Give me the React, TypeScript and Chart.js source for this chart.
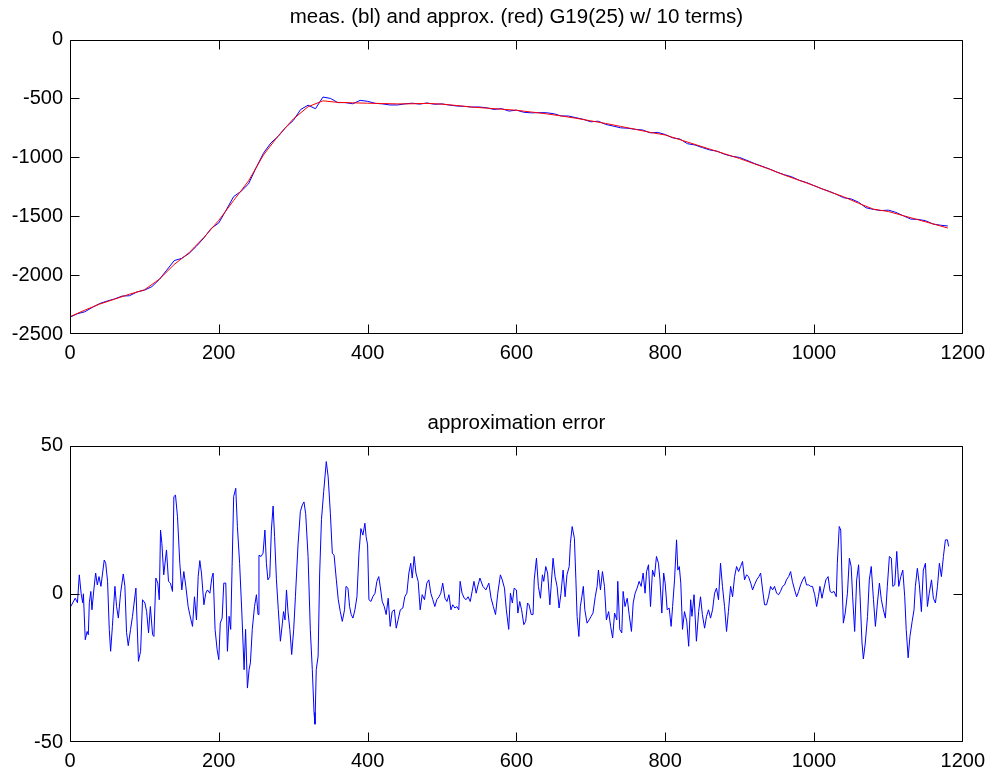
import React, { useEffect, useRef } from 'react';
import { Chart, registerables } from 'chart.js';

Chart.register(...registerables);

const FONT = 'Liberation Sans, Arial, Helvetica, sans-serif';

const topTitle = 'meas. (bl) and approx. (red) G19(25) w/ 10 terms)';
const errTitle = 'approximation error';

const xTicks = [0, 200, 400, 600, 800, 1000, 1200];
const topYTicks = [-2500, -2000, -1500, -1000, -500, 0];
const errYTicks = [-50, 0, 50];

// red: approximation
const approxX = [
  0, 20, 40, 60, 80, 100, 120, 140, 160, 180,
  200, 220, 240, 260, 280, 300, 320, 340, 360, 380,
  400, 420, 440, 460, 480, 500, 520, 540, 560, 580,
  600, 620, 640, 660, 680, 700, 720, 740, 760, 780,
  800, 820, 840, 860, 880, 900, 920, 940, 960, 980,
  1000, 1020, 1040, 1060, 1080, 1100, 1120, 1140, 1160, 1180,
];
const approxY = [
  -2353, -2297, -2246, -2204, -2162, -2125, -2035, -1910, -1810, -1680,
  -1535, -1366, -1200, -980, -816, -675, -570, -520, -533, -537,
  -540, -543, -546, -545, -542, -548, -560, -573, -582, -591,
  -600, -615, -630, -648, -668, -690, -712, -737, -762, -788,
  -810, -850, -890, -930, -970, -1010, -1055, -1100, -1150, -1195,
  -1240, -1290, -1335, -1390, -1440, -1460, -1495, -1530, -1565, -1600,
];

// blue: measurement
const measX = [
  0, 10, 20, 30, 40, 50, 60, 70, 80, 90,
  100, 110, 120, 130, 140, 150, 160, 170, 180, 190,
  200, 210, 220, 230, 240, 250, 260, 270, 280, 290,
  300, 310, 320, 330, 340, 350, 360, 370, 380, 390,
  400, 410, 420, 430, 440, 450, 460, 470, 480, 490,
  500, 510, 520, 530, 540, 550, 560, 570, 580, 590,
  600, 610, 620, 630, 640, 650, 660, 670, 680, 690,
  700, 710, 720, 730, 740, 750, 760, 770, 780, 790,
  800, 810, 820, 830, 840, 850, 860, 870, 880, 890,
  900, 910, 920, 930, 940, 950, 960, 970, 980, 990,
  1000, 1010, 1020, 1030, 1040, 1050, 1060, 1070, 1080, 1090,
  1100, 1110, 1120, 1130, 1140, 1150, 1160, 1170, 1180,
];
const measY = [
  -2357, -2328, -2311, -2274, -2241, -2220, -2202, -2178, -2175, -2143,
  -2128, -2098, -2037, -1958, -1877, -1858, -1816, -1754, -1684, -1602,
  -1557, -1447, -1333, -1288, -1225, -1090, -965, -878, -821, -745,
  -688, -594, -557, -587, -488, -499, -535, -535, -545, -516,
  -524, -541, -546, -555, -555, -546, -540, -548, -538, -549,
  -546, -556, -564, -567, -573, -572, -579, -593, -586, -607,
  -599, -617, -622, -620, -621, -629, -648, -649, -663, -677,
  -698, -693, -720, -734, -749, -753, -762, -768, -792, -788,
  -806, -834, -845, -884, -895, -917, -937, -948, -974, -991,
  -1001, -1026, -1052, -1075, -1098, -1125, -1147, -1165, -1194, -1214,
  -1240, -1266, -1287, -1313, -1343, -1353, -1381, -1428, -1442, -1452,
  -1448, -1467, -1496, -1524, -1527, -1538, -1566, -1576, -1583,
];

// approximation error
const errX = [
  1, 7, 10, 12.5, 15, 17, 18, 20.5, 23, 24.6,
  26, 28, 29.5, 32, 34.5, 36.7, 39, 41.6, 46, 48,
  50.5, 52.8, 54.6, 57, 60.4, 62.6, 65, 68, 71.6, 73.8,
  76, 78.3, 81.4, 84, 88.6, 92, 94.9, 97.5, 100.7, 103,
  105.6, 108, 111, 112.8, 115.4, 118, 120, 121.7, 123.5, 126,
  129.7, 132.4, 135, 137.8, 139.6, 141.8, 144.5, 147.6, 150.3, 153,
  155.7, 158.8, 161, 164.7, 167.3, 170, 172.3, 174.5, 176.7, 180,
  182.5, 184.8, 188, 190.6, 192.4, 195, 197.8, 200, 202, 204.5,
  206.7, 209.4, 211.6, 213.9, 216, 217.9, 220, 222.8, 225, 228,
  231, 234, 236, 238.5, 240.7, 242.5, 245, 248, 250.6, 252.8,
  254, 256.8, 259.5, 262, 264, 266, 268.5, 270.7, 273, 275,
  277.5, 280, 282.8, 285.5, 287, 289, 291, 293, 295.5, 298,
  300.7, 303, 306.5, 309.6, 312.3, 314.5, 316.8, 320, 323, 325.7,
  328, 329.3, 331, 333.5, 335.6, 338, 341, 344.5, 347, 350,
  352.6, 355, 358, 360.6, 363.3, 366, 369, 371, 373.6, 375.8,
  378, 380.3, 383, 385.7, 388.4, 391, 393.7, 396.4, 398, 400,
  401.8, 404.5, 407, 410, 412.5, 415, 417, 419.7, 422.4, 425,
  427.7, 430.4, 433, 436, 438.5, 441, 444, 447.4, 450, 452.8,
  455.5, 458, 460, 462.6, 465, 468, 470.7, 473.4, 476.5, 479.6,
  482.3, 485, 487.7, 490.4, 493, 496, 498.4, 501, 504, 506.7,
  509.4, 512, 514.5, 517.3, 520, 522.6, 524.4, 527, 530, 532.4,
  535, 538, 540.5, 543, 546, 548.5, 551, 555, 559, 563,
  566, 569, 572, 575, 578.5, 581, 584, 586.5, 589.7, 592,
  594.6, 597, 600, 602, 604.5, 607, 610, 612.5, 615, 617,
  620, 622.4, 624, 627, 629.6, 632.3, 635, 636.8, 639.5, 642,
  645, 647, 649.3, 652, 654.7, 657.4, 660, 662.8, 665.5, 668,
  671, 672.6, 675, 678, 680, 681.6, 684, 686, 688, 690,
  692, 695, 697.8, 700.5, 703, 706, 708.5, 710.3, 713, 715.7,
  718.4, 721, 724, 726.7, 729.4, 732, 735, 736.3, 739, 741.7,
  743.5, 746, 749, 751.6, 754.7, 757, 759.6, 762.3, 765, 767.7,
  770.4, 773, 775, 777.6, 780.3, 783, 785.6, 788.3, 791, 793,
  795.5, 798, 800, 802.7, 805.4, 808, 810, 812.6, 815.3, 817,
  819, 821, 823.3, 826, 829, 831.6, 834.3, 836, 838.8, 842,
  845, 847.5, 850, 853, 855.6, 858.3, 861, 863.7, 866.4, 869,
  871.7, 874.4, 877, 879.8, 882.5, 885, 888, 890.6, 893.3, 896,
  898.7, 901.4, 904, 906.7, 909.4, 912, 915, 917.5, 920, 923,
  926, 928.3, 931, 933.6, 936.3, 939, 941.7, 944.4, 947, 949.8,
  952.5, 955, 957.8, 960.5, 963, 966, 968.6, 971, 974, 976.7,
  979.4, 982, 984.8, 987.4, 990, 992.8, 995.5, 998, 1001, 1003.6,
  1006, 1008, 1010.8, 1013.5, 1016, 1019, 1021.7, 1024, 1027, 1030,
  1031.4, 1034, 1036, 1037.7, 1039.5, 1042, 1045, 1047.6, 1050, 1052,
  1054.7, 1057.4, 1060, 1062, 1064.6, 1066.4, 1069, 1072, 1074.4, 1077,
  1080, 1082.6, 1085.3, 1088, 1090.6, 1093.3, 1096, 1098.6, 1101.4, 1104,
  1106, 1108.6, 1111.3, 1114, 1116.7, 1119.4, 1122, 1124, 1126.6, 1129,
  1132, 1134.5, 1136.3, 1139, 1141.7, 1144.4, 1147, 1149.8, 1152.5, 1155,
  1158, 1160.5, 1163.3, 1166, 1168.6, 1171.3, 1174, 1176.7, 1179.4, 1181,
];
const errY = [
  -4.3, -1.5, -3, 6.4, 0, -3, 0, -15.5, -12.7, -13.8,
  -3, 0.8, -5.4, 1.3, 7, 3, 5.8, 2.5, 11.4, 10.3,
  4.2, -12, -19.4, -11, 2.5, -4.3, -8.2, 0.2, 6.7, 2.5,
  -13, -17.5, -12, -7.6, 1.9, -22.8, -19.4, -2, -3.1, -6,
  -13.2, -4.3, -13.8, -14.4, 5.3, 3.6, -2, 21.5, 17, 6.4,
  14.8, 4.2, 3.6, 0.8, 32.8, 33.3, 26, 10.3, 1.3, 7.5,
  2.5, -4.3, -7, -11, -1, -8.8, 5.8, 11.2, 7, -3.7,
  0.2, 1.3, 0.2, 5.3, 7, -12, -18.9, -22.2, -9.9, -8.2,
  3.6, 3.6, -19.4, -7.6, -12, 9.2, 32.8, 35.6, 22.7, 10.3,
  -6.5, -25.6, -12, -31.8, -25.6, -23.3, -12, -4.3, -0.3, -7,
  13, 12.6, 13.7, 21.5, 10.3, 4.7, 5.8, 21.5, 29.6, 19.3,
  4.7, -5.4, -16, -9.9, -6, -8.8, 1.3, -6, -12, -20.5,
  -12, -1, 16.5, 27.7, 30, 31, 27, 12.6, -12, -25.6,
  -40, -44, -25.6, -21, 7, 25, 34.5, 44.6, 39.5, 27,
  13.7, 13, 4.7, -2, -6, -9.3, -5.4, 2.5, 1.9, -4.3,
  -7, -8.2, -5.4, -1, 13.7, 22, 19.8, 23.8, 19.3, 16.5,
  -2, -2.6, -1, 0.2, 4.2, 5.8, 2.5, -2.6, -4.3, -7,
  -1.5, -11, -6, -5.4, -11.6, -8.8, -5.4, -4.8, -1, 0.2,
  7, 10.3, 5.3, 12.6, 7, 4.2, -5.4, -0.3, -2, 3.6,
  4.7, 0.2, -2, -4.3, -2, -1, 0.2, 3.6, -1.5, -2.6,
  -0.3, -5.4, -3.7, -4.8, -4.3, -5.4, 4.2, 0.2, -1.5, -2,
  -1, -2.6, 0.8, 4.2, 0.2, 3, 5.3, 2.5, 1.3, 3.6,
  -1.5, -4.3, -7, 0.2, 6.4, 4.7, 1.9, -5.4, -12, 0.2,
  -3.1, 1.9, 1.3, -6.5, -2.6, -5.4, -10.4, -9.3, -3.1, -3.7,
  -7, -7, 4.7, 12, 2.5, -1.5, 6.4, 4.2, 9.2, 7,
  -3.7, 3.6, 12, 5.8, 2.5, -4.8, 0.2, 8, -1, 6.4,
  9.2, 17, 22.7, 18.7, 4.7, -7.6, -14.4, -4.3, -1, 2.5,
  -5.4, -9.9, -8.8, -7.6, -6.5, -1, 2.5, 8, 1.3, 7.5,
  2.5, -8.8, -6, -11, -14.9, -6.5, -8.8, 4.2, -12, -13.2,
  0.8, -4.3, -1.5, -7, -12.7, -3.1, 0.2, 1.9, 4.2, 2.5,
  7, 0.2, 7.5, 9.8, -4.3, 8, 5.8, 12.6, 10.3, 4.7,
  -6.5, 7, 3.6, -5.4, -4.8, -11, -4.3, 4.7, 18.2, 8,
  9.2, 3.6, -12, -6, -9.3, -17.7, -2, -7.6, -0.3, -16,
  -6, -1, -7, -11.6, -7.6, -5.4, -8.2, -5.4, 0.2, 1.9,
  -2, 10.3, 2.5, -4.3, -12.7, -6, 2.5, -1, 5.8, 9.2,
  7.5, 9.2, 10.9, 4.7, 6.4, 5.8, 3.6, 1.3, 3, 4.7,
  5.8, 7, 1.3, -3.7, -3.7, -1, 2.5, 1.3, 2.5, 0.2,
  -0.3, 0.8, 2.5, 3, 4.7, 5.8, 7.5, 4.2, 1.3, -1,
  0.8, 3, 4.7, 5.8, 3, 3, 2.5, 2.5, -0.3, -4.3,
  -1, 2.5, -1.5, 1.9, 4.7, 5.8, 0.8, 0.4, 0.8, -1,
  10.3, 22.7, 21.5, 4.7, -9.9, -6.5, 0.2, 12, 9.2, -1,
  -12.7, 4.7, 9.8, -1, -16.6, -22, -16.6, -7.6, 4.7, 9.2,
  -2, -11, -3.1, 3.6, -2, -5.4, -8.2, 2.5, 12.6, 12,
  2.5, 3, 14.3, 2.5, 5.8, 8, -1, -12, -21.6, -14.4,
  -9.3, -5.4, 2.5, 8.6, 3, -6, 8, 10.3, -4.3, 0.2,
  4.7, -1.5, -3.1, 2.5, 10.3, 5.8, 12.6, 18.2, 18.2, 16,
];

const toPoints = (xs: number[], ys: number[]) => xs.map((x, i) => ({ x, y: ys[i] }));

const clamp = (v: number, lo: number, hi: number) => Math.min(hi, Math.max(lo, v));

const framePlugin = {
  id: 'matlabFrame',
  afterDraw(chart: any) {
    const { ctx, chartArea: a, scales } = chart;
    const L = Math.round(a.left) + 0.5;
    const R = Math.round(a.right) - 0.5;
    const T = Math.round(a.top) + 0.5;
    const B = Math.round(a.bottom) - 0.5;
    const tl = 9;
    ctx.save();
    ctx.strokeStyle = '#000';
    ctx.lineWidth = 1;
    ctx.beginPath();
    ctx.rect(L, T, R - L, B - T);
    scales.x.ticks.forEach((t: any) => {
      const px = clamp(Math.round(scales.x.getPixelForValue(t.value)) + 0.5, L, R);
      ctx.moveTo(px, B);
      ctx.lineTo(px, B - tl);
      ctx.moveTo(px, T);
      ctx.lineTo(px, T + tl);
    });
    scales.y.ticks.forEach((t: any) => {
      const py = clamp(Math.round(scales.y.getPixelForValue(t.value)) + 0.5, T, B);
      ctx.moveTo(L, py);
      ctx.lineTo(L + tl, py);
      ctx.moveTo(R, py);
      ctx.lineTo(R - tl, py);
    });
    ctx.stroke();
    ctx.restore();
  },
};

function makeOptions(title: string, yMin: number, yMax: number, yTicks: number[], titleTop: number, xHeight: number) {
  const font = { family: FONT, size: 20, weight: 'normal' as const };
  const titleFont = { family: FONT, size: 20.5, weight: 'normal' as const };
  return {
    responsive: false,
    animation: false as const,
    layout: { padding: { left: 0, right: 29, top: 0, bottom: 0 } },
    plugins: {
      legend: { display: false },
      tooltip: { enabled: false },
      title: {
        display: true,
        text: title,
        fullSize: false,
        color: '#000',
        font: titleFont,
        padding: { top: titleTop, bottom: 10 },
      },
    },
    scales: {
      x: {
        type: 'linear' as const,
        min: 0,
        max: 1200,
        afterBuildTicks: (s: any) => {
          s.ticks = xTicks.map((v) => ({ value: v }));
        },
        afterFit: (s: any) => {
          s.height = xHeight;
        },
        grid: { display: false, drawTicks: false },
        border: { display: false },
        ticks: {
          color: '#000',
          font,
          padding: 7,
          maxRotation: 0,
          autoSkip: false,
          callback: (v: any) => String(v),
        },
      },
      y: {
        type: 'linear' as const,
        min: yMin,
        max: yMax,
        afterBuildTicks: (s: any) => {
          s.ticks = yTicks.map((v) => ({ value: v }));
        },
        afterFit: (s: any) => {
          s.width = 70;
        },
        grid: { display: false, drawTicks: false },
        border: { display: false },
        ticks: {
          color: '#000',
          font,
          padding: 7,
          autoSkip: false,
          callback: (v: any) => String(v),
        },
      },
    },
  };
}

export default function App() {
  const topRef = useRef<HTMLCanvasElement | null>(null);
  const botRef = useRef<HTMLCanvasElement | null>(null);

  useEffect(() => {
    const lineBase = { pointRadius: 0, borderWidth: 1, tension: 0, fill: false };
    const top = new Chart(topRef.current as HTMLCanvasElement, {
      type: 'line',
      data: {
        datasets: [
          { ...lineBase, label: 'approx', data: toPoints(approxX, approxY), borderColor: 'rgb(255,0,0)' },
          { ...lineBase, label: 'meas', data: toPoints(measX, measY), borderColor: 'rgb(0,0,255)' },
        ],
      },
      options: makeOptions(topTitle, -2500, 0, topYTicks, 5, 53) as any,
      plugins: [framePlugin],
    });
    const bot = new Chart(botRef.current as HTMLCanvasElement, {
      type: 'line',
      data: {
        datasets: [
          { ...lineBase, label: 'error', data: toPoints(errX, errY), borderColor: 'rgb(0,0,255)' },
        ],
      },
      options: makeOptions(errTitle, -50, 50, errYTicks, 24, 32) as any,
      plugins: [framePlugin],
    });
    return () => {
      top.destroy();
      bot.destroy();
    };
  }, []);

  return (
    <div style={{ position: 'absolute', left: 0, top: 0, width: 992, height: 774, background: '#fff' }}>
      <canvas ref={topRef} width={992} height={387} style={{ position: 'absolute', left: 0, top: 0, width: 992, height: 387 }} />
      <canvas ref={botRef} width={992} height={387} style={{ position: 'absolute', left: 0, top: 387, width: 992, height: 387 }} />
    </div>
  );
}
